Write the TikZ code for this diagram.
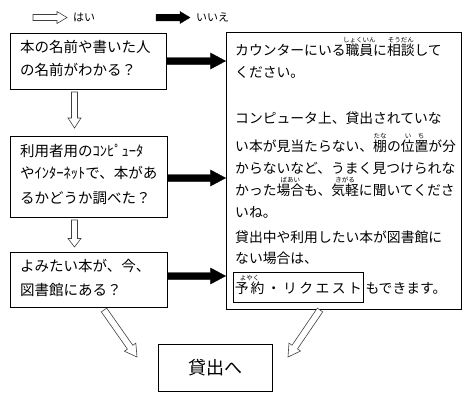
\documentclass[tikz,border=0pt]{standalone}
\usepackage{fontspec}
\setmainfont{Noto Sans CJK JP}
\usetikzlibrary{calc}
\newsavebox\rbbox
\newcommand\rubyfont{\fontsize{6.5pt}{6.5pt}\selectfont}
\newcommand\rb[2]{\sbox\rbbox{#1}\makebox[\wd\rbbox]{\raisebox{0.9em}[0pt][0pt]{\rubyfont #2}}\hspace{-\wd\rbbox}\usebox\rbbox}
% style, tail, tip, shaft half width, head half width, head length
\newcommand\blockarrow[6]{%
  \coordinate (baH) at ($(#3)!#6!(#2)$);
  \draw[#1] ($(#2)!#4!90:(#3)$) -- ($(baH)!#4!90:(#3)$) -- ($(baH)!#5!90:(#3)$) -- (#3)
    -- ($(baH)!#5!-90:(#3)$) -- ($(baH)!#4!-90:(#3)$) -- ($(#2)!#4!-90:(#3)$) -- cycle;}
\tikzset{
  box/.style={draw=black, line width=0.9pt, fill=white, inner sep=0pt},
  txt/.style={anchor=base west, inner sep=0pt, font=\fontsize{14.5pt}{14.5pt}\selectfont},
  rtxt/.style={anchor=base west, inner sep=0pt, font=\fontsize{13.8pt}{13.8pt}\selectfont},
  whitearrow/.style={draw=black!75, fill=white, line width=0.6pt, line join=miter},
  blackarrow/.style={draw=black, fill=black, line width=0.4pt, line join=miter},
  legend/.style={anchor=west, inner sep=0pt, font=\fontsize{11pt}{11pt}\selectfont}
}
\begin{document}
\begin{tikzpicture}[x=1pt, y=-1pt]
\useasboundingbox[fill=white] (0,0) rectangle (472,402);
% legend
\coordinate (l1t) at (33,17.5);
\coordinate (l1h) at (67,17.5);
\blockarrow{whitearrow}{l1t}{l1h}{3pt}{6pt}{10pt}
\node[legend] (yes) at (73,17.5) {はい};
\coordinate (l2t) at (156,17.5);
\coordinate (l2h) at (190,17.5);
\blockarrow{blackarrow}{l2t}{l2h}{3.3pt}{6pt}{10pt}
\node[legend] (no) at (196,17.5) {いいえ};
% boxes
\node[box, minimum width=156pt, minimum height=56pt] (b1) at (88.5,61) {};
\node[box, minimum width=157pt, minimum height=81pt] (b2) at (88.5,176.5) {};
\node[box, minimum width=157pt, minimum height=55pt] (b3) at (88.5,279.5) {};
\node[box, minimum width=235pt, minimum height=277pt] (rb) at (343.5,170.5) {};
\node[box, minimum width=114pt, minimum height=47pt, font=\fontsize{18pt}{18pt}\selectfont] (end) at (215,367.5) {貸出へ};
% left texts
\node[txt] (t11) at (20,52.5) {本の名前や書いた人};
\node[txt] (t12) at (20,75.5) {の名前がわかる？};
\node[txt] (t21) at (20,156.5) {利用者用のｺﾝﾋﾟｭｰﾀ};
\node[txt] (t22) at (20,178.5) {やｲﾝﾀｰﾈｯﾄで、本があ};
\node[txt] (t23) at (20,203.5) {るかどうか調べた？};
\node[txt] (t31) at (20,271.5) {よみたい本が、今、};
\node[txt] (t32) at (20,295.5) {図書館にある？};
% right texts
\node[rtxt] (r1) at (235,55.3) {カウンターにいる\rb{職員}{しょくいん}に\rb{相談}{そうだん}して};
\node[rtxt] (r2) at (235,77.3) {ください。};
\node[rtxt] (r3) at (235,123.3) {コンピュータ上、貸出されていな};
\node[rtxt] (r4) at (235,151.3) {い本が見当たらない、\rb{棚}{たな}の\rb{位置}{い　ち}が分};
\node[rtxt] (r5) at (235,173.3) {からないなど、うまく見つけられな};
\node[rtxt] (r6) at (235,195.3) {かった\rb{場合}{ばあい}も、\rb{気軽}{きがる}に聞いてくださ};
\node[rtxt] (r7) at (235,217.3) {いね。};
\node[rtxt] (r8) at (235,242.3) {貸出中や利用したい本が図書館に};
\node[rtxt] (r9) at (235,263.3) {ない場合は、};
\node[rtxt, draw=black, line width=0.8pt, inner xsep=1.5pt, inner ysep=2pt, text height=19pt, text depth=7pt] (yk) at (233,293.3)
  {\makebox[127pt]{\rb{予\hspace{2pt}約}{よやく}\hfill ・\hfill リ\hfill ク\hfill エ\hfill ス\hfill ト}};
\node[rtxt, xshift=1.5pt] (mo) at (yk.base east) {もできます。};
% white down arrows
\coordinate (d1t) at (74.5,92);
\coordinate (d1h) at (74.5,128);
\blockarrow{whitearrow}{d1t}{d1h}{3pt}{6.5pt}{10pt}
\coordinate (d2t) at (74.5,220);
\coordinate (d2h) at (74.5,247);
\blockarrow{whitearrow}{d2t}{d2h}{3pt}{6.5pt}{8.5pt}
% black arrows to right box
\coordinate (s1) at (b1.east);
\coordinate (e1) at (rb.west |- s1);
\blockarrow{blackarrow}{s1}{e1}{3.5pt}{8pt}{15pt}
\coordinate (s2) at ($(b2.east)+(0,1.5)$);
\coordinate (e2) at (rb.west |- s2);
\blockarrow{blackarrow}{s2}{e2}{3.5pt}{8pt}{15pt}
\coordinate (s3) at ($(b3.east)+(0,-3.5)$);
\coordinate (e3) at (rb.west |- s3);
\blockarrow{blackarrow}{s3}{e3}{3.5pt}{8pt}{15pt}
% diagonal arrows to end
\coordinate (g1t) at (104,310);
\coordinate (g1h) at (137,357);
\blockarrow{whitearrow}{g1t}{g1h}{3.3pt}{7pt}{12pt}
\coordinate (g2t) at (320,310);
\coordinate (g2h) at (288,357);
\blockarrow{whitearrow}{g2t}{g2h}{3.3pt}{7pt}{12pt}
\end{tikzpicture}
\end{document}
